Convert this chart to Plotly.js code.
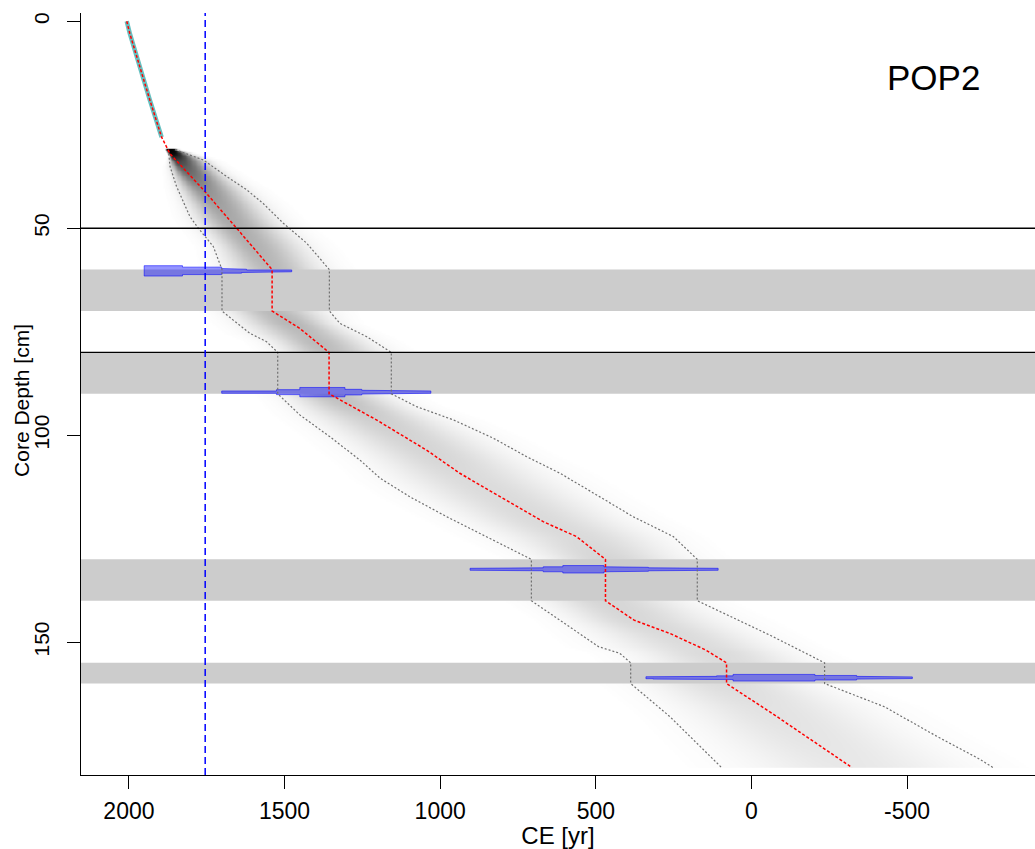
<!DOCTYPE html>
<html>
<head>
<meta charset="utf-8">
<script src="https://cdn.plot.ly/plotly-3.0.1.min.js"></script>
<style>html,body{margin:0;padding:0;background:#fff;}#chart{width:1035px;height:849px;}</style>
</head>
<body>
<div id="chart"></div>
<script>
// ---- data ----
const coreName = "POP2";
const xTitle = "CE [yr]";
const yTitle = "Core Depth [cm]";
const xTickVals = [2000, 1500, 1000, 500, 0, -500];
const yTickVals = [0, 50, 100, 150];
const refYear = 1755;                 // vertical dashed reference year
const hiatusDepths = [50, 80];
const slumpTop = [60, 80, 130, 155];
const slumpBottom = [70, 90, 140, 160];

// uppermost (surface) section
const surfDepth = [0, 3, 19, 28];
const surfYear = [2007, 1997, 1933, 1895];

// median age-depth
const medDepth = [0, 3, 19, 28, 32, 40.7, 50, 60, 70, 74.2, 80, 90, 96.3, 103.6, 109.2, 115.3, 120.9, 124.5, 130, 140, 144.7, 147.9, 151.9, 155, 160, 168, 180.3];
const medYear = [2007, 1997, 1933, 1895, 1868, 1761, 1654, 1540, 1540, 1451, 1357, 1357, 1205, 1044, 937, 798, 669, 562, 469, 469, 377, 262, 147, 80, 80, -82, -323];

// young (upper CE) 95% bound
const loDepth = [32, 35.1, 39.9, 47.2, 50, 54.4, 60, 70, 72.2, 75.4, 77.4, 80, 90, 95.1, 100.4, 106, 110.4, 114.9, 119.7, 125.3, 130, 140, 145.1, 151.1, 152.7, 155, 160, 168, 180.3];
const loYear = [1872, 1868, 1847, 1804, 1777, 1729, 1701, 1701, 1665, 1611, 1558, 1522, 1522, 1451, 1354, 1258, 1193, 1097, 979, 830, 707, 707, 606, 491, 423, 388, 388, 262, 96];

// old (lower CE) 95% bound
const hiDepth = [31, 33.5, 37.5, 40.7, 44, 48.8, 53.6, 60, 70, 73, 76.2, 80, 90, 93.1, 96.3, 100.7, 105.2, 109.2, 114.9, 119.7, 124.5, 130, 140, 143.9, 148.3, 153.5, 155, 160, 165.6, 172.9, 178.3, 180.3];
const hiYear = [1852, 1761, 1686, 1622, 1569, 1504, 1429, 1356, 1356, 1322, 1236, 1157, 1157, 1076, 958, 830, 722, 615, 487, 380, 251, 174, 174, 67, -59, -196, -235, -235, -427, -599, -734, -776];

// calibrated dates: depth, year step edges, half-height (cm) of each step
const dateDepths = [60.3, 89.6, 132.4, 158.6];
const date1Edges = [1951, 1828, 1702, 1638, 1622, 1477];
const date1Half  = [1.25, 0.9, 0.55, 0.4, 0.22];
const date2Edges = [1702, 1526, 1451, 1306, 1252, 1236, 1030];
const date2Half  = [0.28, 0.6, 1.13, 0.68, 0.45, 0.28];
const date3Edges = [904, 870, 669, 606, 474, 405, 331, 147, 107];
const date3Half  = [0.24, 0.36, 0.6, 0.9, 0.6, 0.48, 0.36, 0.24];
const date4Edges = [339, 316, 112, 59, -204, -338, -482, -517];
const date4Half  = [0.24, 0.33, 0.45, 0.8, 0.55, 0.33, 0.2];

// ---- helpers ----
const X_RANGE = [2154, -911];
const Y_RANGE = [182.1, -2.0];

function interp(ds, ys, d) {
  if (d <= ds[0]) return ys[0];
  for (let i = 0; i < ds.length - 1; i++) {
    if (d >= ds[i] && d <= ds[i + 1] && ds[i + 1] > ds[i]) {
      const t = (d - ds[i]) / (ds[i + 1] - ds[i]);
      return ys[i] + t * (ys[i + 1] - ys[i]);
    }
  }
  return ys[ys.length - 1];
}

// grey-scale cloud rendered from the median and bounds
const cloudX = [], cloudY = [], cloudZ = [];
for (let yr = 2150; yr >= -905; yr -= 4) cloudX.push(yr);
for (let d = 31; d <= 180.3; d += 0.4) {
  cloudY.push(d);
  const m = interp(medDepth, medYear, d);
  const lo = Math.max(interp(loDepth, loYear, d), m + 2);
  const hi = Math.min(interp(hiDepth, hiYear, d), m - 2);
  const sL = Math.max((lo - m) / 2, 3), sR = Math.max((m - hi) / 2, 3);
  const w = Math.max(lo - hi, 20);
  const amp = Math.pow(123 / w, 1.3);
  const row = [];
  for (const yr of cloudX) {
    const u = yr >= m ? (yr - m) / sL : (m - yr) / sR;
    const v = 1 - Math.exp(-1.2 * Math.exp(-0.5 * u * u) * amp);
    row.push(v < 0.004 ? null : v);
  }
  cloudZ.push(row);
}

const traces = [];
traces.push({
  type: 'heatmap', x: cloudX, y: cloudY, z: cloudZ,
  colorscale: [[0, '#ffffff'], [1, '#000000']], zmin: 0, zmax: 1,
  showscale: false, hoverinfo: 'skip', zsmooth: 'best'
});

// slump bands
slumpTop.forEach((t, i) => {
  const b = slumpBottom[i];
  traces.push({
    type: 'scatter', mode: 'lines', fill: 'toself',
    x: [X_RANGE[0] + 100, X_RANGE[1] - 100, X_RANGE[1] - 100, X_RANGE[0] + 100, X_RANGE[0] + 100],
    y: [t, t, b, b, t],
    fillcolor: '#cccccc', line: {width: 0}, hoverinfo: 'skip', showlegend: false
  });
});

// dates
function blob(depth, edges, half) {
  const xs = [], ys = [];
  for (let i = 0; i < half.length; i++) { xs.push(edges[i], edges[i + 1]); ys.push(depth - half[i], depth - half[i]); }
  for (let i = half.length - 1; i >= 0; i--) { xs.push(edges[i + 1], edges[i]); ys.push(depth + half[i], depth + half[i]); }
  xs.push(xs[0]); ys.push(ys[0]);
  return {type: 'scatter', mode: 'lines', fill: 'toself', x: xs, y: ys,
    fillcolor: 'rgba(0,0,255,0.42)', line: {color: 'rgba(0,0,255,0.55)', width: 1},
    hoverinfo: 'skip', showlegend: false};
}
traces.push(blob(dateDepths[0], date1Edges, date1Half));
traces.push(blob(dateDepths[1], date2Edges, date2Half));
traces.push(blob(dateDepths[2], date3Edges, date3Half));
traces.push(blob(dateDepths[3], date4Edges, date4Half));

// surface section
traces.push({type: 'scatter', mode: 'lines', x: surfYear, y: surfDepth,
  line: {color: 'rgba(0,150,150,0.6)', width: 4.5}, hoverinfo: 'skip', showlegend: false});

// bounds
traces.push({type: 'scatter', mode: 'lines', x: loYear, y: loDepth,
  line: {color: '#707070', width: 1.2, dash: '2px,2px'}, hoverinfo: 'skip', showlegend: false});
traces.push({type: 'scatter', mode: 'lines', x: hiYear, y: hiDepth,
  line: {color: '#707070', width: 1.2, dash: '2px,2px'}, hoverinfo: 'skip', showlegend: false});
// median
traces.push({type: 'scatter', mode: 'lines', x: medYear, y: medDepth,
  line: {color: '#ff0000', width: 1.5, dash: '3px,2px'}, hoverinfo: 'skip', showlegend: false});

const shapes = [];
hiatusDepths.forEach(d => shapes.push({type: 'line', xref: 'paper', x0: 0, x1: 1, yref: 'y', y0: d, y1: d,
  line: {color: '#000000', width: 1.3}, layer: 'above'}));
shapes.push({type: 'line', xref: 'x', x0: refYear, x1: refYear, yref: 'paper', y0: 0, y1: 1,
  line: {color: '#0000ff', width: 1.5, dash: '7px,4px'}, layer: 'above'});

const layout = {
  width: 1035, height: 849,
  margin: {l: 81, r: 0, t: 13, b: 74},
  paper_bgcolor: '#ffffff', plot_bgcolor: '#ffffff',
  showlegend: false,
  font: {family: 'Liberation Sans, Arial, sans-serif', color: '#000000'},
  xaxis: {
    range: X_RANGE, tickvals: xTickVals, ticktext: xTickVals.map(String),
    ticks: 'outside', ticklen: 13, tickwidth: 1, tickcolor: '#000',
    showline: true, linecolor: '#000', linewidth: 1, mirror: false,
    showgrid: false, zeroline: false, ticklabelstandoff: 2,
    tickfont: {size: 23, color: '#000'},
    title: {text: xTitle, font: {size: 24, color: '#000'}, standoff: 0}
  },
  yaxis: {
    range: Y_RANGE, tickvals: yTickVals, ticktext: yTickVals.map(String),
    ticks: 'outside', ticklen: 13, tickwidth: 1, tickcolor: '#000', tickangle: -90,
    showline: true, linecolor: '#000', linewidth: 1,
    showgrid: false, zeroline: false, ticklabelstandoff: 10,
    tickfont: {size: 21, color: '#000'},
    title: {text: ''}
  },
  shapes: shapes,
  annotations: [
    {text: coreName, xref: 'paper', yref: 'paper', x: 0.894, y: 0.915,
      xanchor: 'center', yanchor: 'middle', showarrow: false, font: {size: 35, color: '#000'}},
    {text: yTitle, xref: 'paper', yref: 'paper', x: -0.0618, y: 0.491, textangle: -90,
      xanchor: 'center', yanchor: 'middle', showarrow: false, font: {size: 21, color: '#000'}}
  ]
};

Plotly.newPlot('chart', traces, layout, {staticPlot: true, displayModeBar: false});
</script>
</body>
</html>
